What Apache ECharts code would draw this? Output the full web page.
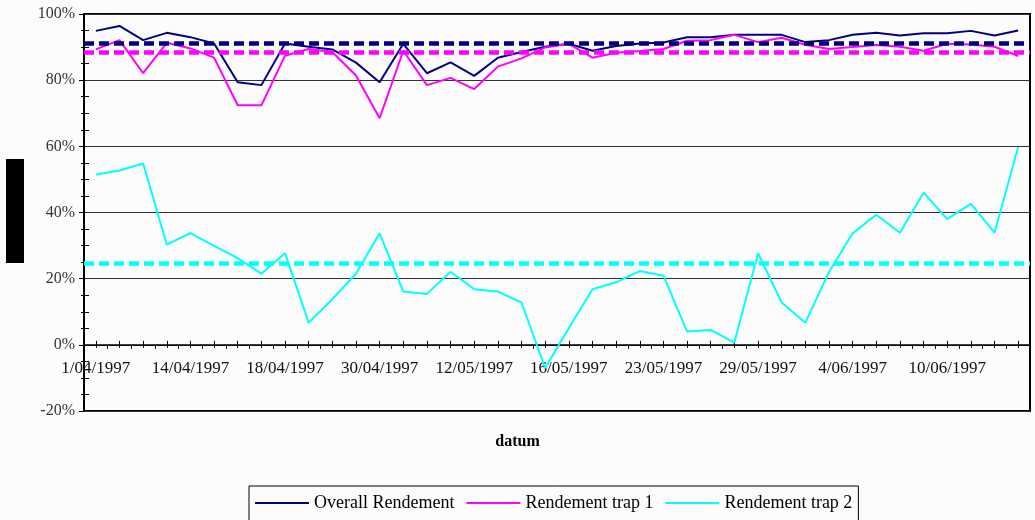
<!DOCTYPE html>
<html>
<head>
<meta charset="utf-8">
<script src="https://cdn.jsdelivr.net/npm/echarts@6/dist/echarts.min.js"></script>
<style>
  html, body { margin: 0; padding: 0; background: #fcfcfc; }
  #chart { width: 1035px; height: 520px; }
</style>
</head>
<body>
<div id="chart"></div>
<script>
// Sampling dates (every fourth one is labelled on the axis)
const dates = [
  '1/04/1997', '3/04/1997', '7/04/1997', '10/04/1997',
  '14/04/1997', '15/04/1997', '16/04/1997', '17/04/1997',
  '18/04/1997', '21/04/1997', '23/04/1997', '25/04/1997',
  '30/04/1997', '2/05/1997', '6/05/1997', '9/05/1997',
  '12/05/1997', '13/05/1997', '14/05/1997', '15/05/1997',
  '16/05/1997', '19/05/1997', '20/05/1997', '21/05/1997',
  '23/05/1997', '26/05/1997', '27/05/1997', '28/05/1997',
  '29/05/1997', '30/05/1997', '2/06/1997', '3/06/1997',
  '4/06/1997', '5/06/1997', '6/06/1997', '9/06/1997',
  '10/06/1997', '11/06/1997', '12/06/1997', '13/06/1997'
];

// Efficiency in percent
const overall = [
  94.9, 96.4, 92.1, 94.3, 93.0, 91.1, 79.4, 78.5, 91.1, 90.1,
  89.3, 85.3, 79.4, 91.0, 82.1, 85.4, 81.3, 86.8, 88.5, 90.1,
  91.0, 88.9, 90.3, 91.1, 91.4, 93.0, 93.0, 93.7, 93.7, 93.7,
  91.5, 92.1, 93.7, 94.3, 93.5, 94.2, 94.2, 94.9, 93.5, 95.0
];
const trap1 = [
  89.3, 92.1, 82.1, 91.3, 89.6, 86.8, 72.4, 72.4, 87.4, 89.4,
  88.5, 81.4, 68.5, 88.9, 78.5, 80.7, 77.3, 84.1, 86.6, 89.9,
  91.0, 86.8, 88.3, 88.8, 89.4, 91.9, 92.1, 93.7, 91.5, 92.8,
  90.7, 89.4, 90.0, 90.6, 90.1, 88.9, 91.0, 90.8, 90.1, 87.3
];
const trap2 = [
  51.5, 52.7, 54.8, 30.3, 33.8, 29.9, 26.2, 21.5, 27.7, 6.7,
  13.8, 21.5, 33.7, 16.1, 15.4, 22.1, 16.8, 16.1, 12.8, -7.0,
  5.1, 16.8, 18.9, 22.3, 20.9, 4.0, 4.5, 0.7, 27.7, 12.8,
  6.7, 22.0, 33.7, 39.3, 33.9, 46.0, 38.0, 42.6, 33.9, 59.8
];

// Mean efficiency per series (dashed reference lines)
const averages = [91.1, 88.4, 24.6];

const seriesNames = ['Overall Rendement', 'Rendement trap 1', 'Rendement trap 2'];
const seriesColors = ['#000080', '#ff00ff', '#00ffff'];
const seriesData = [overall, trap1, trap2];

const yMin = -20, yMax = 100, yStep = 20;
const axisTitle = 'datum';

const serif = '"Liberation Serif", "DejaVu Serif", serif';

// Plot frame in pixels; the date axis sits on the 0 % line
const plot = { left: 84, top: 14, right: 5, bottom: 109 };
const plotHeight = 520 - plot.top - plot.bottom;
const zeroOffset = plotHeight * (yMax - 0) / (yMax - yMin);

const chart = echarts.init(document.getElementById('chart'), null, { renderer: 'canvas' });

const series = seriesData.map((data, i) => ({
  name: seriesNames[i],
  type: 'line',
  xAxisIndex: 0,
  yAxisIndex: 0,
  data: data,
  symbol: 'none',
  showSymbol: false,
  lineStyle: { color: seriesColors[i], width: 2 },
  itemStyle: { color: seriesColors[i] },
  z: 3,
  markLine: {
    silent: true,
    symbol: ['none', 'none'],
    label: { show: false },
    lineStyle: { color: seriesColors[i], width: 4.5, type: [10, 5] },
    data: [{ yAxis: averages[i] }],
    animation: false,
    z: 4
  }
}));

const dateAxisBase = {
  type: 'category', data: dates, boundaryGap: true, gridIndex: 1, position: 'bottom',
  axisLine: { show: false, onZero: false },
  axisLabel: { show: false },
  splitLine: { show: false }
};

const option = {
  backgroundColor: '#fcfcfc',
  animation: false,
  grid: [
    {
      left: plot.left, top: plot.top, right: plot.right, bottom: plot.bottom,
      show: true, borderColor: '#000', borderWidth: 2, backgroundColor: 'transparent'
    },
    {
      left: plot.left, top: plot.top, right: plot.right, height: zeroOffset,
      show: false
    }
  ],
  legend: {
    left: 249, top: 486,
    padding: [8, 6, 10, 6],
    itemGap: 12, itemWidth: 54, itemHeight: 2,
    icon: 'rect',
    borderColor: '#000', borderWidth: 1,
    backgroundColor: '#fcfcfc',
    textStyle: { fontFamily: serif, fontSize: 18, color: '#000' },
    data: seriesNames
  },
  xAxis: [
    {
      type: 'category', data: dates, boundaryGap: true, gridIndex: 0, show: false
    },
    Object.assign({}, dateAxisBase, {
      axisLine: { show: true, onZero: false, lineStyle: { color: '#000', width: 1.5 } },
      axisTick: { show: true, interval: 0, alignWithLabel: true, length: 3, lineStyle: { color: '#000' } },
      axisLabel: { show: true, interval: 3, margin: 15, fontFamily: serif, fontSize: 17, color: '#111' }
    }),
    Object.assign({}, dateAxisBase, {
      axisTick: { show: true, interval: 0, alignWithLabel: false, length: 4, lineStyle: { color: '#000' } }
    }),
    Object.assign({}, dateAxisBase, {
      axisTick: { show: true, inside: true, interval: 0, alignWithLabel: true, length: 4, lineStyle: { color: '#000' } }
    })
  ],
  yAxis: [
    {
      type: 'value', gridIndex: 0, min: yMin, max: yMax, interval: yStep,
      axisLine: { show: true, lineStyle: { color: '#000', width: 2 } },
      axisTick: { show: true, length: 5, lineStyle: { color: '#000' } },
      minorTick: { show: true, splitNumber: 4, length: 3, lineStyle: { color: '#000' } },
      axisLabel: { formatter: '{value}%', margin: 9, fontFamily: serif, fontSize: 16, color: '#333' },
      splitLine: { show: true, lineStyle: { color: '#333', width: 1 } }
    },
    {
      type: 'value', gridIndex: 0, min: yMin, max: yMax, interval: yStep, position: 'left',
      axisLine: { show: false },
      axisTick: { show: false, inside: true },
      minorTick: { show: true, splitNumber: 4, length: 5, lineStyle: { color: '#000' } },
      axisLabel: { show: false },
      splitLine: { show: false }
    },
    {
      type: 'value', gridIndex: 1, min: 0, max: yMax, show: false
    }
  ],
  series: series,
  graphic: [
    { type: 'rect', left: 6, top: 159, shape: { width: 18, height: 104 }, style: { fill: '#000' } },
    {
      type: 'text', left: 'center', top: 434,
      style: { text: axisTitle, font: 'bold 16px ' + serif, fill: '#000' }
    }
  ]
};

chart.setOption(option);
</script>
</body>
</html>
